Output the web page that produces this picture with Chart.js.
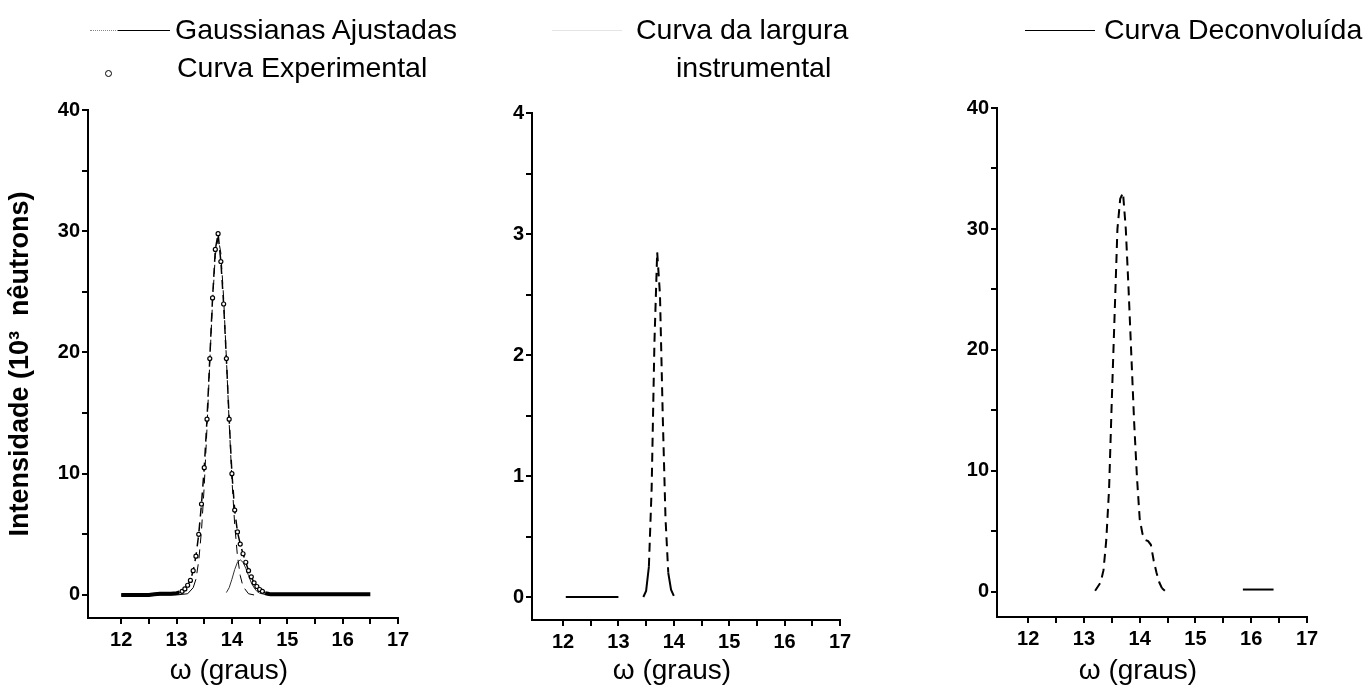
<!DOCTYPE html>
<html>
<head>
<meta charset="utf-8">
<script src="https://cdn.jsdelivr.net/npm/chart.js@4.4.1/dist/chart.umd.min.js"></script>
<style>
    body { margin: 0; background: #fff; width: 1367px; height: 693px; overflow: hidden; position: relative; font-family: Arial, "Liberation Sans", sans-serif; }
    canvas { position: absolute; top: 0; }
    .leg { position: absolute; font-size: 28.5px; line-height: 32px; color: #000; white-space: nowrap; }
    .sample { position: absolute; height: 0; border-top: 1.5px solid #000; }
</style>
</head>
<body>
<canvas id="c1" width="420" height="693" style="left:0"></canvas>
<canvas id="c2" width="420" height="693" style="left:440px"></canvas>
<canvas id="c3" width="467" height="693" style="left:900px"></canvas>

<div class="sample" style="left:90px; top:30px; width:28px; border-top:1px dotted #888"></div>
<div class="sample" style="left:118px; top:30px; width:52px"></div>
<div class="leg" style="left:175px; top:13px">Gaussianas Ajustadas</div>
<div style="position:absolute; left:105px; top:70px; width:5px; height:5px; border:1px solid #000; border-radius:50%"></div>
<div class="leg" style="left:177px; top:51px">Curva Experimental</div>

<div class="sample" style="left:552px; top:30px; width:70px; border-top:1px solid #e4e4e4"></div>
<div class="leg" style="left:636px; top:13px">Curva da largura</div>
<div class="leg" style="left:676px; top:51px">instrumental</div>

<div class="sample" style="left:1025px; top:30px; width:70px"></div>
<div class="leg" style="left:1104px; top:13px">Curva Deconvoluída</div>

<script>
// painel 1 - curva experimental (pontos)
const exp1X = [12.0, 12.1, 12.2, 12.3, 12.4, 12.5, 12.6, 12.7, 12.8, 12.9, 13.0,
    13.05, 13.1, 13.15, 13.2, 13.25, 13.3, 13.35, 13.4, 13.45, 13.5, 13.55, 13.6, 13.65, 13.7, 13.75,
    13.8, 13.85, 13.9, 13.95, 14.0, 14.05, 14.1, 14.15, 14.2, 14.25, 14.3, 14.35, 14.4, 14.45, 14.5,
    14.55, 14.6, 14.65, 14.7, 14.8, 14.9, 15.0, 15.1, 15.2, 15.3, 15.4, 15.5, 15.6, 15.7, 15.8,
    15.9, 16.0, 16.1, 16.2, 16.3, 16.4, 16.5];
const exp1Y = [0, 0, 0, 0, 0, 0, 0.05, 0.1, 0.1, 0.1, 0.15,
    0.2, 0.3, 0.5, 0.8, 1.2, 2.0, 3.2, 5.0, 7.5, 10.5, 14.5, 19.5, 24.5, 28.5, 29.8,
    27.5, 24.0, 19.5, 14.5, 10.0, 7.0, 5.2, 4.2, 3.4, 2.7, 2.0, 1.5, 1.0, 0.7, 0.45,
    0.3, 0.15, 0.1, 0.05, 0.05, 0.05, 0.05, 0.05, 0.05, 0.05, 0.05, 0.05, 0.05, 0.05, 0.05,
    0.05, 0.05, 0.05, 0.05, 0.05, 0.05, 0.05];

// painel 1 - gaussianas ajustadas
const fitAX = [12.0, 12.5, 13.0, 13.2, 13.3, 13.35, 13.4, 13.45, 13.5, 13.55, 13.6, 13.65, 13.7, 13.75,
    13.8, 13.85, 13.9, 13.95, 14.0, 14.05, 14.1, 14.15, 14.2, 14.3, 14.4];
const fitAY = [0, 0, 0, 0.1, 0.6, 1.3, 2.8, 5.3, 9.0, 13.8, 19.2, 24.2, 28.0, 29.5,
    28.2, 24.5, 19.5, 14.2, 9.5, 5.8, 3.2, 1.6, 0.7, 0.1, 0];
const fitBX = [13.9, 13.95, 14.0, 14.05, 14.1, 14.15, 14.2, 14.25, 14.3, 14.35, 14.4, 14.45, 14.5, 14.6, 14.7];
const fitBY = [0.2, 0.6, 1.3, 2.1, 2.7, 2.9, 2.7, 2.2, 1.6, 1.0, 0.6, 0.3, 0.15, 0.03, 0];

// painel 2 - curva da largura instrumental
const instX = [12.05, 12.5, 13.0, 13.2, 13.45, 13.5, 13.55, 13.6, 13.65, 13.7, 13.75, 13.8, 13.85, 13.9, 13.95, 14.0];
const instY = [0, 0, 0, null, 0, 0.05, 0.25, 0.9, 2.1, 2.85, 2.5, 1.5, 0.65, 0.2, 0.06, 0.01];

// painel 3 - curva deconvoluida
const decX = [13.2, 13.3, 13.35, 13.4, 13.45, 13.5, 13.55, 13.6, 13.65, 13.7, 13.75, 13.8, 13.85, 13.9,
    13.95, 14.0, 14.05, 14.1, 14.15, 14.2, 14.25, 14.3, 14.35, 14.4, 14.45, 15.2, 15.85, 16.0, 16.4];
const decY = [0.1, 0.8, 1.8, 4.3, 8.5, 16, 23, 30, 32.5, 33, 30, 25, 19.5, 14, 9.5, 6.0, 4.8, 4.3, 4.2,
    3.9, 2.6, 1.6, 0.8, 0.3, 0.1, null, 0.2, 0.2, 0.2];

const xTicks = [12, 12.5, 13, 13.5, 14, 14.5, 15, 15.5, 16, 16.5, 17];
const yTicks40 = [0, 5, 10, 15, 20, 25, 30, 35, 40];
const yTicks4 = [0, 0.5, 1, 1.5, 2, 2.5, 3, 3.5, 4];

const pts = (xs, ys) => xs.map((x, i) => ({ x: x, y: ys[i] }));
const dashed = ctx => (ctx.p0.parsed.y > 0.6 || ctx.p1.parsed.y > 0.6) ? [9, 6] : undefined;
// na linha de base os circulos se sobrepoem e viram uma faixa grossa
const baseWidth = ctx => (ctx.p0.parsed.y < 0.3 && ctx.p1.parsed.y < 0.3) ? 4 : 1.5;
const baseRadius = ctx => (ctx.raw && ctx.raw.y < 0.3) ? 0 : 2;

function makeChart(id, opts) {
    const axisFont = { family: 'Arial, "Liberation Sans"', size: 20, weight: 'bold' };
    return new Chart(document.getElementById(id), {
        type: 'scatter',
        data: { datasets: opts.datasets },
        options: {
            responsive: false,
            animation: false,
            layout: { padding: { top: opts.top, right: opts.right, left: 0, bottom: 0 } },
            plugins: { legend: { display: false }, tooltip: { enabled: false } },
            scales: {
                x: {
                    type: 'linear', min: opts.xMin, max: 17,
                    afterBuildTicks: s => { s.ticks = xTicks.map(v => ({ value: v })); },
                    afterFit: s => { s.height = opts.xHeight; },
                    ticks: { color: '#000', font: axisFont, padding: 4,
                        callback: v => Number.isInteger(v) ? v : '' },
                    grid: { drawOnChartArea: false, drawTicks: true, tickLength: 6, color: '#000', lineWidth: 2 },
                    border: { display: true, color: '#000', width: 2 },
                    // espaco no fim desloca o titulo um pouco para a esquerda, como no original
                    title: { display: true, text: 'ω (graus)\u2003', color: '#000',
                        font: { family: 'Arial, "Liberation Sans"', size: 28 }, padding: { top: 2, bottom: 5 } }
                },
                y: {
                    type: 'linear', min: opts.yMin, max: opts.yMax,
                    afterBuildTicks: s => { s.ticks = opts.yTicks.map(v => ({ value: v })); },
                    afterFit: s => { s.width = opts.yWidth; },
                    ticks: { color: '#000', font: axisFont, padding: 2,
                        callback: v => (v % opts.yMajor === 0) ? v : '' },
                    grid: { drawOnChartArea: false, drawTicks: true, tickLength: 6, color: '#000', lineWidth: 2 },
                    border: { display: true, color: '#000', width: 2 },
                    title: opts.yTitle ? { display: true, text: opts.yTitle, color: '#000',
                        font: { family: 'Arial, "Liberation Sans"', size: 27, weight: 'bold' }, padding: { top: 4, bottom: 0 } }
                        : { display: false }
                }
            }
        }
    });
}

makeChart('c1', {
    top: 110, right: 22, xHeight: 75, yWidth: 88, xMin: 11.4, yMin: -1.9, yMax: 40,
    yTicks: yTicks40, yMajor: 10, yTitle: 'Intensidade (10³  nêutrons)',
    datasets: [
        { label: 'Curva Experimental', data: pts(exp1X, exp1Y), showLine: true, borderColor: '#000', borderWidth: 2,
          pointRadius: baseRadius, pointBackgroundColor: '#fff', pointBorderColor: '#000', pointBorderWidth: 1.2,
          segment: { borderDash: dashed, borderWidth: baseWidth } },
        { label: 'Gaussianas Ajustadas', data: pts(fitAX, fitAY), showLine: true, borderColor: '#000', borderWidth: 1,
          pointRadius: 0, segment: { borderDash: dashed } },
        { label: 'Gaussianas Ajustadas 2', data: pts(fitBX, fitBY), showLine: true, borderColor: '#333', borderWidth: 1,
          pointRadius: 0 }
    ]
});

makeChart('c2', {
    top: 113, right: 20, xHeight: 73, yWidth: 92, xMin: 11.44, yMin: -0.19, yMax: 4,
    yTicks: yTicks4, yMajor: 1,
    datasets: [
        { label: 'Curva da largura instrumental', data: pts(instX, instY), showLine: true, spanGaps: false,
          borderColor: '#000', borderWidth: 2, pointRadius: 0, segment: { borderDash: dashed } }
    ]
});

makeChart('c3', {
    top: 108, right: 60, xHeight: 76, yWidth: 97, xMin: 11.44, yMin: -2.07, yMax: 40,
    yTicks: yTicks40, yMajor: 10,
    datasets: [
        { label: 'Curva Deconvoluída', data: pts(decX, decY), showLine: true, spanGaps: false,
          borderColor: '#000', borderWidth: 2, pointRadius: 0, segment: { borderDash: dashed } }
    ]
});
</script>
</body>
</html>
